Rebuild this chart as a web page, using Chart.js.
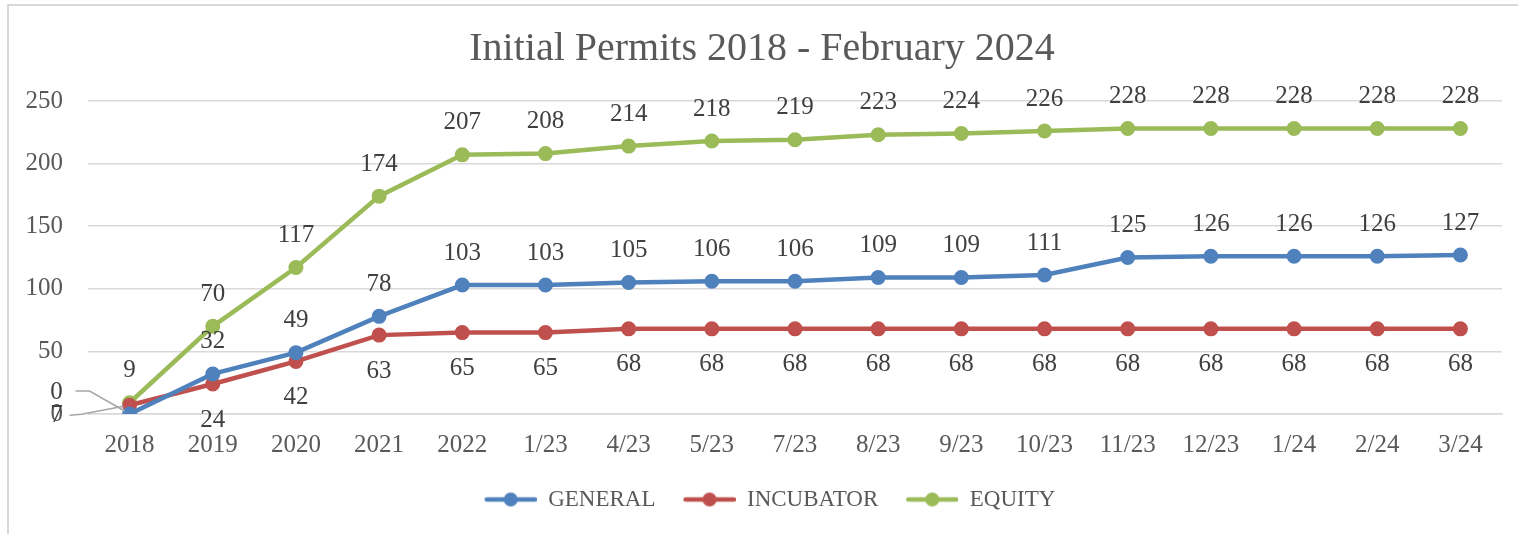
<!DOCTYPE html>
<html>
<head>
<meta charset="utf-8">
<script src="https://cdn.jsdelivr.net/npm/chart.js@4"></script>
<style>
  html, body { margin: 0; padding: 0; background: #ffffff; }
  #wrap { position: relative; width: 1518px; height: 534px; }
  #frame { position: absolute; left: 7px; top: 4px; right: 0; bottom: 0; border-left: 2px solid #d9d9d9; border-top: 2px solid #d9d9d9; pointer-events: none; }
  canvas { display: block; }
</style>
</head>
<body>
<div id="wrap">
  <canvas id="c" width="1518" height="534"></canvas>
  <div id="frame"></div>
</div>
<script>
const categories = ['2018','2019','2020','2021','2022','1/23','4/23','5/23','7/23','8/23','9/23','10/23','11/23','12/23','1/24','2/24','3/24'];
const general   = [0, 32, 49, 78, 103, 103, 105, 106, 106, 109, 109, 111, 125, 126, 126, 126, 127];
const incubator = [7, 24, 42, 63, 65, 65, 68, 68, 68, 68, 68, 68, 68, 68, 68, 68, 68];
const equity    = [9, 70, 117, 174, 207, 208, 214, 218, 219, 223, 224, 226, 228, 228, 228, 228, 228];
const yTicks = [0, 50, 100, 150, 200, 250];

const FONT = "'Liberation Serif', 'Times New Roman', serif";

// legend marker: line with a dot, with blank space on its left for item spacing
function legendMarker(color) {
  const cv = document.createElement('canvas');
  cv.width = 68; cv.height = 16;
  const g = cv.getContext('2d');
  g.strokeStyle = color; g.lineWidth = 4.5; g.lineCap = 'round';
  g.beginPath(); g.moveTo(18, 8); g.lineTo(66, 8); g.stroke();
  g.fillStyle = color;
  g.beginPath(); g.arc(42, 8, 7, 0, Math.PI * 2); g.fill();
  return cv;
}

const colors = { general: '#4f81bd', incubator: '#c0504d', equity: '#9bbb59' };

// label placement per dataset: dy offset from point; special leader-lines for first point
const labelCfg = [
  { dy: -32, first: { dx: -73, dy: -22, leader: [[-54, -23], [-40, -23], [-5, -3]] } },
  { dy: 36,  first: { dx: -73, dy: 10,  leader: [[-60, 10], [-48, 9], [-6, 1]] } },
  { dy: -32 }
];

const dataLabels = {
  id: 'dataLabels',
  afterDatasetsDraw(chart) {
    const ctx = chart.ctx;
    ctx.save();
    ctx.font = '25px ' + FONT;
    ctx.fillStyle = '#404040';
    ctx.textAlign = 'center';
    ctx.textBaseline = 'middle';
    chart.data.datasets.forEach((ds, di) => {
      const meta = chart.getDatasetMeta(di);
      const cfg = labelCfg[di];
      meta.data.forEach((pt, i) => {
        const v = ds.data[i];
        if (i === 0 && cfg.first) {
          const f = cfg.first;
          ctx.save();
          ctx.strokeStyle = '#a6a6a6';
          ctx.lineWidth = 1.5;
          ctx.beginPath();
          f.leader.forEach((p, k) => {
            if (k === 0) ctx.moveTo(pt.x + p[0], pt.y + p[1]);
            else ctx.lineTo(pt.x + p[0], pt.y + p[1]);
          });
          ctx.stroke();
          ctx.restore();
          ctx.fillText(String(v), pt.x + f.dx, pt.y + f.dy);
        } else {
          ctx.fillText(String(v), pt.x, pt.y + cfg.dy);
        }
      });
    });
    ctx.restore();
  }
};

function mkDataset(label, data, color) {
  return {
    label: label,
    data: data,
    borderColor: color,
    backgroundColor: color,
    borderWidth: 4.5,
    pointRadius: 6.5,
    pointBorderWidth: 2,
    pointBackgroundColor: color,
    pointBorderColor: color,
    pointHoverRadius: 6.5,
    tension: 0,
    fill: false
  };
}

new Chart(document.getElementById('c'), {
  type: 'line',
  data: {
    labels: categories,
    datasets: [
      mkDataset('GENERAL', general, colors.general),
      mkDataset('INCUBATOR', incubator, colors.incubator),
      mkDataset('EQUITY', equity, colors.equity)
    ]
  },
  options: {
    responsive: false,
    animation: false,
    events: [],
    layout: { padding: { left: 22, right: 16, top: 0, bottom: 13 } },
    plugins: {
      title: {
        display: true,
        text: 'Initial Permits 2018 - February 2024',
        color: '#595959',
        font: { family: FONT, size: 40, weight: 'normal' },
        padding: { top: 25, bottom: 28 }
      },
      legend: {
        display: true,
        position: 'bottom',
        labels: {
          usePointStyle: true,
          pointStyleWidth: 68,
          padding: 12,
          color: '#595959',
          font: { family: FONT, size: 23 },
          generateLabels(chart) {
            return chart.data.datasets.map((ds, i) => ({
              text: ds.label,
              fillStyle: ds.borderColor,
              strokeStyle: ds.borderColor,
              lineWidth: 0,
              pointStyle: legendMarker(ds.borderColor),
              fontColor: '#595959',
              hidden: false,
              datasetIndex: i
            }));
          }
        }
      },
      tooltip: { enabled: false }
    },
    scales: {
      x: {
        offset: true,
        grid: { display: false, drawTicks: false },
        border: { display: true, color: '#d9d9d9', width: 1.5 },
        ticks: { color: '#595959', font: { family: FONT, size: 25 }, padding: 16, maxRotation: 0, autoSkip: false }
      },
      y: {
        min: 0,
        max: 250,
        afterFit(scale) { scale.width = 66; },
        afterBuildTicks(scale) { scale.ticks = yTicks.map(v => ({ value: v })); },
        grid: { color: '#d9d9d9', lineWidth: 1.5, drawTicks: false },
        border: { display: false },
        ticks: { color: '#595959', font: { family: FONT, size: 25 }, padding: 25 }
      }
    }
  },
  plugins: [dataLabels]
});
</script>
</body>
</html>
